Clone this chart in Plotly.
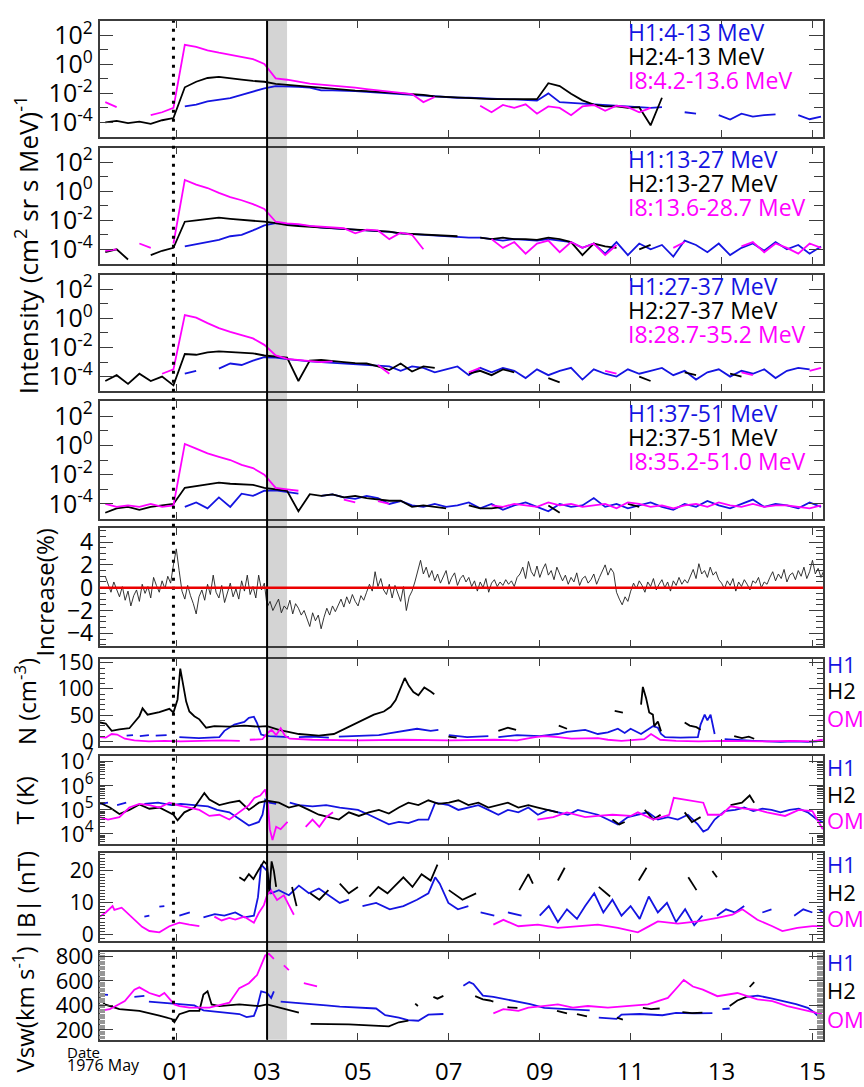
import plotly.graph_objects as go
import pandas as pd

W, H = 864, 1087
BASE = pd.Timestamp("1976-05-01 00:00")

# ---------------- sampling grids (days from 1976-05-01 00:00 UT) ----------------
T_INT = [-1.56 + 0.25 * k for k in range(64)]
T_INC = [-1.56 + 0.0625 * k for k in range(256)]

# ---------------- proton intensities, log10 values ----------------
P1_H1 = [None]*7 + [-2.9,-2.77,-2.55,-2.44,-2.32,-2.1,-1.88,-1.65,
 -1.5,-1.5,-1.55,-1.6,-1.8,-1.8,-1.8,-1.85,-1.9,-1.95,
 -2.0,-2.05,-2.1,-2.15,-2.2,-2.25,-2.3,-2.3,-2.35,-2.4,
 -2.4,-2.42,-2.45,-2.5,-2.0,-2.6,-2.65,-2.7,-2.8,-2.85,
 -2.9,-2.95,-3.0,-3.0,-2.95,None,-3.3,-3.4,None,-3.5,
 -3.8,-3.4,-3.6,-3.5,-3.45,None,-3.5,-3.78,-3.6]
P1_H2 = [-4.0,-3.9,-4.05,-3.95,-4.1,-3.85,-3.7,
 -1.58,-1.2,-0.94,-0.87,-0.98,-1.05,-1.14,-1.2,
 -1.35,-1.42,-1.48,-1.55,-1.6,-1.68,-1.72,-1.81,-1.85,-1.9,
 -1.95,-2.0,-2.05,-2.1,-2.2,-2.25,-2.25,-2.3,-2.39,-2.4,
 -2.4,-2.4,-2.45,-2.4,-1.3,-1.5,-2.03,-2.48,-2.77,-2.9,
 -2.9,-3.0,-2.95,-4.2,-2.3,None,None,None,None,None] + [None]*9
P1_I8 = [-2.6,-2.95,None,None,-3.5,-3.3,-3.0,
 1.35,1.2,0.97,0.8,0.65,0.52,0.36,0.03,
 -0.96,-1.06,-1.2,-1.33,-1.4,-1.45,-1.5,-1.6,-1.7,-1.8,
 -1.85,-1.95,-2.05,-2.6,-2.25,None,None,None,
 -2.85,-3.3,-2.8,-3.0,-2.75,-3.4,-2.9,-3.0,-3.5,-2.9,-2.8,-3.2,-2.85,-2.95,-3.3,-3.0] + [None]*15

P2_H1 = [None]*7 + [-3.8,-3.65,-3.45,-3.35,-3.1,-3.0,-2.7,-2.35,
 -2.2,-2.25,-2.3,-2.4,-2.5,-2.55,-2.6,-2.65,-2.7,-2.75,
 -2.8,-2.9,-2.95,-3.0,-3.1,-3.1,-3.15,-3.2,-3.2,-3.3,
 -3.4,-3.3,-3.35,-3.4,-3.3,-3.4,
 -3.5,-3.9,-3.6,-4.3,-3.5,-4.4,-3.6,-4.0,-3.7,-4.5,-3.4,-3.7,-4.2,-3.6,-4.4,-3.9,-3.6,-4.1,-3.5,-4.0,-3.7,-4.3,-3.8]
P2_H2 = [-4.2,-4.0,-4.7,None,-4.4,-4.1,-3.9,
 -2.1,-2.0,-1.9,-1.82,-1.9,-1.95,-2.0,-2.1,
 -2.2,-2.33,-2.4,-2.45,-2.5,-2.55,-2.55,-2.6,-2.65,-2.7,
 -2.78,-2.9,-2.95,-3.0,-3.0,-3.05,-3.1,None,-3.2,-3.3,
 -3.2,-3.3,-3.3,-3.35,-3.2,-3.3,-3.5,-4.4,-3.6,-3.8,
 -3.9,None,-4.0,-3.7] + [None]*15
P2_I8 = [-4.1,-4.0,None,-3.6,-3.9,None,-3.6,
 0.78,0.45,0.22,-0.11,-0.4,-0.62,-0.89,-1.22,
 -2.1,-2.22,-2.27,-2.38,-2.45,-2.5,-2.55,-2.9,-2.65,-2.7,
 -3.3,-2.85,-3.0,-4.0,None,None,None,None,None,
 -3.3,-3.9,-3.5,-4.3,-3.6,-3.4,-4.2,-3.5,-3.9,-3.6,-4.4,-3.7,
 None,None,None,None,-3.9,-3.5,None,None,None,None,
 -3.8,-3.5,-4.2,-3.6,-3.9,-4.3,-3.6,-3.9]

P3_H1 = [None]*7 + [-3.8,-3.6,None,-3.45,-3.1,-3.2,-2.9,-2.67,
 -2.7,-2.8,-2.9,-2.95,-3.0,-3.05,-3.1,-3.15,-3.2,-3.3,-3.3,
 -3.6,-3.3,-3.4,-3.7,-3.5,-3.3,-3.9,-3.4,-3.7,-3.4,-3.6,-4.1,-3.5,-3.9,-3.6,-3.4,-4.2,-3.5,-3.8,
 -4.0,-3.5,-3.8,-3.6,-3.4,-3.9,-3.6,-4.2,-3.7,-3.5,-4.0,-3.6,-3.8,-3.5,-4.1,-3.6,-3.4,-3.5]
P3_H2 = [-4.3,-3.9,-4.5,-3.8,-4.3,-4.0,-4.6,
 -2.45,-2.5,-2.33,-2.27,-2.33,-2.35,-2.4,-2.55,
 -2.6,-2.7,-4.3,-2.9,-2.85,-2.9,-3.0,-3.07,-3.1,-3.3,
 -3.55,-3.1,-3.65,-3.3,-3.4,None,None,-3.8,-3.6,-3.9,
 -3.5,-3.7,None,None,-4.1,-4.4,None,None,None,None,
 None,None,-4.0,-4.3,None,None,-3.7,-3.9,None,None,
 -3.8,-4.0] + [None]*7
P3_I8 = [None,None,None,None,None,-3.8,-3.5,
 0.22,0.04,-0.33,-0.67,-0.93,-1.16,-1.38,-1.82,
 -2.55,-2.78,-2.85,-2.9,-3.0,-2.95,None,None,None,-3.2,
 -3.8,None,None,None,None,None,None,-3.7,-3.4,None,
 None,None,None,None,None,None,None,None,None,-3.6,
 -3.8,None,None,None,None,None,None,None,None,None,
 None,-3.7,-3.9,None,None,None,None,-3.6,-3.4]

P4_H1 = [None]*7 + [-4.2,-3.9,-4.3,-3.55,-4.2,-3.3,-3.45,-3.1,
 -3.07,-3.2,-3.3,None,-3.45,-3.35,-3.55,-3.65,-3.45,-3.6,-4.0,-3.8,
 -4.1,-4.2,-4.0,-4.2,-4.1,-3.9,-4.3,-4.0,-4.4,-4.1,-3.9,-4.2,-4.5,-4.0,-4.2,-4.1,-3.6,-4.2,-4.0,
 -4.3,-4.1,-3.9,-4.2,-4.4,-4.0,-4.2,-3.8,-4.1,-4.3,-4.0,-3.7,-4.2,-4.0,-4.1,-4.3,-3.9,-4.2]
P4_H2 = [-4.6,-4.3,-4.2,-4.4,-4.2,-4.1,-4.0,
 -2.9,-2.78,-2.62,-2.55,-2.62,-2.65,-2.7,-2.9,
 -3.0,-3.1,-4.5,-3.33,-3.45,-3.35,-3.55,-3.45,-3.6,-3.67,
 -3.78,-3.78,-4.2,-4.1,-4.2,-4.3,None,-4.1,-4.3,-4.3,
 -4.2,None,None,None,-4.1,-4.6,None,None,None,None,
 None,-4.0,-4.2] + [None]*16
P4_I8 = [-4.0,-4.2,-4.1,-4.2,-4.0,-4.2,-4.1,
 0.1,-0.22,-0.55,-0.78,-1.0,-1.33,-1.55,-2.0,
 -2.9,-3.0,-3.1,None,None,None,-3.7,-3.9,None,-3.8,
 -4.0,None,None,None,None,None,None,None,None,
 -4.1,-4.2,-4.0,-4.1,-4.2,-3.9,-4.1,-4.0,-4.2,-4.1,-4.0,-4.3,-3.9,-4.0,-4.2,
 -4.1,-4.3,-4.1,-4.0,-4.2,-3.9,-4.1,-4.2,-4.0,-4.2,-4.1,-4.1,-4.2,-4.3,-4.1]

# ---------------- cosmic-ray increase (%) ----------------
INCREASE = [1.0,0.2,-0.4,0.5,-0.2,-0.8,0.1,-1.1,-0.3,-1.6,-0.7,-0.2,-1.2,0.3,-0.5,0.1,-0.9,0.9,0.2,-0.4,0.6,-0.1,1.0,0.4,
 2.0,3.4,1.5,
 -0.3,-1.0,0.2,-0.7,-1.4,-2.3,-0.8,-0.2,-1.1,0.3,-0.6,1.1,-0.4,-0.9,0.2,-1.3,-0.5,0.4,-0.8,-0.1,-1.0,0.6,-0.3,1.1,-0.6,0.1,-0.9,1.1,-0.2,0.4,
 -1.7,
 -1.2,-2.0,-1.5,-1.0,-2.2,-1.6,-1.9,-1.1,-2.3,-1.4,-1.8,-2.4,
 -2.0,-2.8,-3.4,-2.2,-2.9,-2.4,-3.6,-2.6,
 -1.8,-2.4,-1.6,-2.1,-1.5,
 -1.0,-1.7,-0.8,-1.4,-0.6,-1.2,-1.6,-0.7,-1.1,-0.4,
 0.3,-0.3,1.4,0.1,0.8,-0.2,
 -0.6,0.3,-0.9,0.2,-0.5,-1.2,0.1,-2.0,-0.8,-0.3,
 0.5,1.4,2.4,1.2,1.8,0.9,1.5,
 0.6,1.2,0.4,1.0,1.5,0.3,0.9,1.3,0.2,0.8,1.1,0.5,0.9,
 0.1,0.6,-0.3,0.5,0.0,0.8,-0.4,0.4,0.7,0.1,0.5,
 0.2,0.7,0.3,0.6,0.1,0.9,
 1.2,1.8,0.8,2.3,1.4,1.0,1.9,0.9,1.6,2.1,1.1,1.5,0.7,1.8,1.2,
 0.6,1.1,0.3,0.9,0.5,1.3,0.2,0.8,1.0,0.4,0.7,1.2,0.3,0.9,
 1.4,2.0,1.1,1.7,1.3,
 -0.4,-1.0,-1.5,-0.8,-1.2,-0.3,
 0.4,-0.1,0.6,0.2,-0.4,0.5,0.1,0.8,-0.2,0.3,0.7,0.0,0.5,-0.3,0.6,0.2,0.9,0.3,0.7,0.4,
 1.0,1.6,0.8,2.1,1.2,1.5,0.9,1.8,1.1,1.4,0.7,
 0.4,-0.1,0.6,0.2,0.8,-0.3,0.5,0.1,0.7,0.3,-0.2,0.6,0.4,0.9,0.0,0.5,0.3,
 0.9,1.4,0.6,1.2,0.8,1.6,0.5,1.1,1.3,0.7,1.5,1.0,1.8,0.8,1.4,2.4,1.2,1.7,0.9,1.5,1.9,1.3]

# ---------------- plasma: (day, value) pairs; None = data gap ----------------
N_H1 = [(-1.09,11),(-0.95,12),(-0.9,None),(-0.8,10),(-0.6,12),(-0.52,None),(-0.45,11),(-0.21,12),(-0.1,None),
 (0.07,8),(0.5,6),(0.95,8),(1.06,20),(1.28,32),(1.5,37),(1.6,45),(1.71,47),(1.78,35),(1.87,13),(1.96,11),
 (2.05,10),(2.48,8),(2.6,None),(2.7,8),(3.0,9),(3.36,7),(3.47,None),(3.58,9),(4.0,10),(4.46,12),(4.68,15),
 (5.0,20),(5.3,24),(5.6,20),(5.77,22),(5.88,None),(6.0,12),(6.4,8),(6.87,10),(6.98,None),(7.09,8),(7.5,12),
 (8.0,10),(8.4,14),(8.6,18),(9.0,22),(9.28,14),(9.5,17),(9.72,24),(9.87,16),(10.0,24),(10.23,14),(10.49,29),
 (10.6,26),(10.67,14),(10.76,8),(11.1,7),(11.48,8),(11.54,32),(11.63,51),(11.69,40),(11.76,51),(11.85,14),
 (11.95,None),(12.07,4),(12.4,2),(12.72,1),(13.0,0),(13.3,-1),(13.6,0),(13.9,-1),(14.1,0),(14.21,3)]
N_H2 = [(-1.68,36),(-1.55,34),(-1.42,20),(-1.25,23),(-1.03,25),(-0.81,48),(-0.74,63),(-0.63,51),(-0.37,56),
 (-0.15,62),(-0.06,55),(0.03,80),(0.09,139),(0.16,102),(0.22,76),(0.29,57),(0.4,48),(0.51,42),(0.66,26),
 (0.84,29),(1.17,28),(1.5,30),(1.82,28),(2.0,29),(2.26,22),(2.7,14),(3.14,11),(3.47,14),(3.69,23),(3.91,33),
 (4.13,42),(4.35,51),(4.57,57),(4.72,66),(4.83,79),(4.94,102),(5.03,121),(5.12,106),(5.22,94),(5.33,88),
 (5.46,103),(5.6,95),(5.68,90),(5.8,None),(5.99,9),(6.17,7),(6.3,None),(7.09,20),(7.3,26),(7.48,22),(7.6,None),
 (8.42,30),(8.6,24),(8.7,None),(9.65,58),(9.83,55),(9.9,None),(10.23,70),(10.27,104),(10.34,83),(10.41,55),
 (10.49,51),(10.52,29),(10.6,38),(10.67,19),(10.8,None),(11.19,36),(11.3,30),(11.45,27),(11.54,22),(11.7,None),
 (12.28,10),(12.45,6),(12.6,9),(12.72,5)]
N_OM = [(-1.68,8),(-1.55,7),(-1.42,14),(-1.3,13),(-1.13,5),(-0.92,2),(-0.6,0),(-0.26,1),(0.1,0),(0.5,1),(1.0,2),
 (1.4,1),(1.5,None),(1.62,3),(1.9,4),(2.0,15),(2.1,22),(2.2,12),(2.3,25),(2.4,10),(2.5,5),(3.0,3),(4.0,2),
 (5.0,3),(6.0,2),(7.0,3),(7.5,2),(7.9,8),(8.1,10),(8.4,8),(8.7,5),(9.28,6),(9.5,3),(9.8,1),(10.0,2),(10.3,4),
 (10.45,14),(10.55,8),(10.65,3),(11.0,1),(11.5,0),(12.0,1),(12.5,0),(13.0,0),(13.5,1),(14.0,0),(14.23,3)]

# temperature as log10(T/K)
T_H1 = [(-1.68,5.25),(-1.5,5.3),(-1.4,None),(-1.3,5.2),(-1.1,5.3),(-0.95,None),(-0.7,5.25),(-0.4,5.3),(-0.1,5.2),
 (0.1,5.25),(0.4,5.2),(0.7,5.15),(0.9,5.0),(1.17,4.9),(1.39,4.62),(1.6,4.35),(1.82,4.5),(1.9,4.8),(1.96,5.43),
 (2.05,5.3),(2.2,5.25),(2.35,None),(2.5,5.3),(2.7,5.2),(3.0,5.15),(3.3,5.2),(3.6,5.1),(4.0,5.0),(4.24,4.8),
 (4.46,4.6),(4.68,4.4),(4.9,4.5),(5.11,4.45),(5.33,4.6),(5.55,4.6),(5.7,5.3),(6.0,5.2),(6.21,5.0),(6.43,5.1),
 (6.65,5.2),(6.87,5.0),(7.09,4.8),(7.3,5.0),(7.53,4.9),(7.75,5.1),(7.96,4.8),(8.18,5.0),(8.4,4.9),(8.62,4.8),
 (8.84,5.0),(9.06,4.9),(9.28,4.8),(9.5,4.6),(9.72,4.4),(9.94,4.7),(10.16,4.8),(10.38,4.9),(10.6,4.6),
 (10.82,4.7),(11.04,4.6),(11.26,4.8),(11.48,4.4),(11.6,4.1),(11.7,4.2),(11.85,4.6),(12.07,4.95),(12.3,5.0),
 (12.5,5.1),(12.7,4.95),(12.9,5.05),(13.1,5.0),(13.3,4.9),(13.5,5.0),(13.7,5.05),(13.9,4.9),(14.1,4.6),(14.23,4.5)]
T_H2 = [(-1.68,5.3),(-1.46,5.1),(-1.25,4.83),(-1.03,5.0),(-0.81,5.23),(-0.59,5.05),(-0.37,5.1),(-0.15,4.9),
 (-0.06,4.8),(0.03,4.57),(0.18,4.9),(0.4,5.1),(0.62,5.7),(0.73,5.43),(0.95,5.2),(1.17,5.3),(1.39,5.38),(1.6,5.0),
 (1.82,5.3),(2.0,5.38),(2.26,5.3),(2.48,5.1),(2.7,5.2),(2.92,5.0),(3.14,4.8),(3.36,4.7),(3.58,4.6),(3.8,4.9),
 (4.02,4.75),(4.24,4.9),(4.46,5.0),(4.68,4.85),(4.9,5.1),(5.11,5.3),(5.33,5.2),(5.55,5.4),(5.77,5.25),(6.0,5.3),
 (6.21,5.4),(6.43,5.2),(6.65,5.3),(6.87,5.1),(7.09,5.2),(7.3,5.3),(7.53,5.1),(7.75,5.2),(7.96,5.1),(8.18,5.0),
 (8.4,4.9),(8.5,None),(9.6,4.6),(9.75,4.4),(9.87,4.5),(9.95,None),(10.31,5.0),(10.5,4.6),(10.66,4.8),(10.75,None),
 (11.19,4.9),(11.35,4.5),(11.54,4.7),(11.6,None),(12.2,5.2),(12.45,5.3),(12.62,5.6),(12.72,5.3)]
T_OM = [(-1.68,4.7),(-1.5,4.6),(-1.25,4.7),(-1.03,5.1),(-0.81,5.25),(-0.59,5.2),(-0.37,5.1),(-0.15,5.3),(0.03,5.2),
 (0.29,5.1),(0.51,5.0),(0.73,4.75),(0.95,4.8),(1.17,4.6),(1.39,4.9),(1.6,5.2),(1.72,5.5),(1.85,5.6),(1.96,5.85),
 (2.02,5.2),(2.06,4.2),(2.12,3.75),(2.2,4.3),(2.3,4.2),(2.45,4.5),(2.55,None),(2.85,4.3),(3.0,4.6),(3.15,4.3),
 (3.3,4.7),(3.45,4.9),(3.55,None),(7.95,4.6),(8.3,4.7),(8.6,4.9),(9.0,4.7),(9.28,4.75),(9.6,4.8),(10.0,4.75),
 (10.16,4.9),(10.5,4.6),(10.85,4.8),(10.95,5.5),(11.1,5.45),(11.3,5.4),(11.6,5.3),(11.7,4.8),(12.0,4.8),
 (12.2,5.15),(12.5,5.05),(12.8,5.0),(13.0,4.9),(13.4,4.75),(13.7,5.0),(14.0,4.95),(14.1,4.6),(14.23,4.2)]

B_H1 = [(-0.7,5.7),(-0.59,6),(-0.5,None),(-0.37,8.8),(-0.26,9),(-0.15,None),(0.07,6),(0.3,7),(0.5,None),(0.6,5.5),
 (0.85,6.5),(1.06,6),(1.3,7),(1.5,5.5),(1.71,6),(1.8,11.8),(1.87,22),(2.0,20),(2.09,13),(2.26,14),(2.48,12.4),
 (2.7,15.4),(2.92,13),(3.14,14.5),(3.36,12.4),(3.6,10),(3.8,11),(4.0,None),(4.1,9),(4.4,10),(4.7,8),(5.0,9),
 (5.3,11),(5.55,13),(5.7,18),(5.8,16),(5.99,10),(6.2,8),(6.43,9),(6.6,None),(6.7,7),(7.0,6),(7.2,None),(7.3,7),
 (7.6,6),(7.8,None),(8.0,6),(8.2,9),(8.4,4),(8.6,8),(8.82,5),(9.0,9),(9.2,13),(9.4,7),(9.6,11),(9.8,6),(10.0,9),
 (10.2,5),(10.4,12),(10.6,7),(10.8,10),(11.0,4),(11.2,8),(11.4,3),(11.58,6),(11.7,None),(11.9,6),(12.1,8),
 (12.3,7),(12.5,9),(12.6,None),(12.9,7),(13.1,8),(13.2,None),(13.6,6),(13.8,8),(14.0,7),(14.1,None),(14.15,8),(14.23,7)]
B_H2 = [(1.39,18),(1.5,17),(1.6,19),(1.7,17.5),(1.8,20),(1.93,23),(2.0,22),(2.05,13),(2.1,23),(2.15,20),(2.2,15),
 (2.3,None),(2.55,15),(2.65,9),(2.75,None),(2.95,13),(3.15,11),(3.35,14),(3.45,None),(3.6,16),(3.8,13),(4.0,15),
 (4.1,None),(4.25,12),(4.45,15),(4.65,13),(4.85,16),(5.0,18),(5.2,15),(5.4,19),(5.6,17),(5.75,22),(5.85,None),
 (6.0,14),(6.3,11),(6.6,13),(6.7,None),(7.55,14),(7.75,19),(7.85,16),(7.95,None),(8.4,17),(8.55,21),(8.65,None),
 (9.3,15),(9.55,12),(9.65,None),(10.18,17),(10.35,21),(10.45,None),(11.27,18),(11.45,14),(11.55,None),(11.8,20),(11.9,18)]
B_OM = [(-1.68,5.7),(-1.55,7),(-1.4,9),(-1.36,7.8),(-1.2,8.5),(-1.05,6.5),(-0.92,4.7),(-0.75,2.5),(-0.59,1.2),
 (-0.37,0.8),(-0.15,2.7),(0.07,3.8),(0.29,3.2),(0.51,2.7),(0.55,None),(0.84,5.7),(1.0,4.5),(1.17,5.3),(1.3,4.8),
 (1.5,5.7),(1.71,3.8),(1.82,6.9),(1.93,9.3),(2.0,12.4),(2.09,13.9),(2.22,10.9),(2.37,12.4),(2.48,9.3),(2.59,6.3),
 (2.7,None),(6.98,3.2),(7.2,4.7),(7.53,2.7),(7.96,3.2),(8.4,2.2),(8.84,2.7),(9.28,3.2),(9.72,2.2),(10.16,0.8),
 (10.38,2.5),(10.6,4.2),(11.04,3.5),(11.48,4.2),(11.91,5.3),(12.24,6.3),(12.46,8.0),(12.79,4.7),(13.12,2.7),
 (13.34,1.2),(13.67,2.2),(14.0,2.7),(14.23,2.7)]

V_H1 = [(-1.68,490),(-1.5,485),(-1.4,None),(-0.92,470),(-0.7,478),(-0.65,None),(-0.6,430),(-0.3,420),(-0.04,410),
 (0.2,405),(0.4,400),(0.6,360),(0.9,350),(1.2,335),(1.39,330),(1.55,305),(1.71,315),(1.78,382),(1.87,515),
 (2.0,501),(2.09,461),(2.15,515),(2.2,None),(2.3,430),(2.5,425),(2.7,420),(3.0,410),(3.3,400),(3.6,390),
 (4.0,385),(4.4,375),(4.6,320),(4.9,300),(5.1,280),(5.33,275),(5.55,325),(5.88,330),(5.95,None),(6.04,461),
 (6.15,None),(6.32,560),(6.45,590),(6.54,575),(6.75,480),(6.98,470),(7.2,455),(7.5,430),(7.79,410),(8.1,380),
 (8.5,370),(8.8,365),(9.1,360),(9.2,None),(9.3,300),(9.69,290),(9.8,325),(10.2,330),(10.7,320),(11.0,340),
 (11.4,335),(11.8,338),(11.9,None),(12.02,369),(12.18,375),(12.3,None),(12.55,470),(12.8,480),(13.12,455),
 (13.4,430),(13.64,410),(13.9,380),(14.05,340),(14.19,290)]
V_H2 = [(-1.68,462),(-1.57,408),(-1.25,369),(-0.81,356),(-0.37,316),(-0.1,290),(-0.04,263),(0.07,329),(0.29,356),
 (0.51,356),(0.6,488),(0.69,515),(0.78,408),(0.95,395),(1.39,408),(1.82,395),(2.0,408),(2.26,382),(2.7,342),
 (2.81,None),(2.96,250),(3.36,250),(3.8,245),(4.24,237),(4.68,229),(4.9,263),(5.11,276),(5.2,None),(5.26,415),
 (5.32,395),(5.4,None),(5.66,470),(5.75,455),(5.88,478),(5.95,None),(6.58,475),(6.75,450),(6.9,440),(6.98,430),
 (7.05,None),(7.29,385),(7.51,380),(7.6,None),(8.38,355),(8.6,335),(8.7,None),(8.82,330),(9.04,310),(9.1,None),
 (9.7,300),(9.83,285),(9.9,None),(10.27,380),(10.45,370),(10.64,375),(10.7,None),(11.14,345),(11.35,338),
 (11.58,342),(11.65,None),(12.18,395),(12.35,440),(12.55,470),(12.6,None),(12.62,550),(12.72,590)]
V_OM = [(-1.68,356),(-1.46,369),(-1.13,435),(-0.92,528),(-0.81,547),(-0.59,501),(-0.37,475),(-0.26,501),(-0.04,408),
 (0.07,395),(0.29,382),(0.73,382),(1.17,422),(1.39,541),(1.6,581),(1.78,647),(1.87,726),(1.96,806),(2.04,819),
 (2.15,779),(2.2,None),(2.37,726),(2.48,687),(2.55,None),(2.81,581),(3.1,555),(3.2,None),(6.98,335),(7.2,369),
 (7.53,356),(7.75,382),(8.07,395),(8.4,408),(8.73,382),(9.06,395),(9.5,382),(9.94,395),(10.38,408),(10.6,435),
 (10.82,461),(11.04,552),(11.17,607),(11.37,554),(11.59,528),(11.91,475),(12.35,501),(12.79,449),(13.12,435),
 (13.45,395),(13.88,356),(14.21,329)]

# ---------------- labels ----------------
INT_LABELS = [("H1:4-13 MeV", "H2:4-13 MeV", "I8:4.2-13.6 MeV"),
              ("H1:13-27 MeV", "H2:13-27 MeV", "I8:13.6-28.7 MeV"),
              ("H1:27-37 MeV", "H2:27-37 MeV", "I8:28.7-35.2 MeV"),
              ("H1:37-51 MeV", "H2:37-51 MeV", "I8:35.2-51.0 MeV")]
PLASMA_LABELS = ("H1", "H2", "OM")
X_START, X_END = -1.684, 14.237          # days from May 01
EVENT_DOTTED = -0.06
EVENT_SOLID = 2.0
SHADE = (2.0, 2.44)

# ---------------- styling ----------------
BLUE, BLACK, MAG = "rgb(20,20,225)", "rgb(0,0,0)", "rgb(255,0,255)"
AX = "rgb(60,60,60)"
FONT = "Open Sans, Noto Sans, sans-serif"
PANEL_PX = [(9,128),(139,258),(269,388.5),(399,519),(529,650),(663,751.5),(762,852),(862,952),(963,1053)]
XL, XR = 100, 826


def dt(days):
    return [BASE + pd.Timedelta(days=float(d)) for d in days]


def split(pairs):
    return [p[0] for p in pairs], [p[1] for p in pairs]


def exp10(vals):
    return [None if v is None else 10 ** v for v in vals]


fig = go.Figure()

def add(ax, t, y, color, width=1.8):
    sfx = "" if ax == 1 else str(ax)
    fig.add_trace(go.Scatter(x=dt(t), y=y, mode="lines", xaxis="x" + sfx, yaxis="y" + sfx,
                             line=dict(color=color, width=width), connectgaps=False,
                             showlegend=False, hoverinfo="skip"))

for i, (h1, h2, i8) in enumerate([(P1_H1, P1_H2, P1_I8), (P2_H1, P2_H2, P2_I8),
                                   (P3_H1, P3_H2, P3_I8), (P4_H1, P4_H2, P4_I8)]):
    add(i + 1, T_INT, exp10(h1), BLUE)
    add(i + 1, T_INT, exp10(h2), BLACK)
    add(i + 1, T_INT, exp10(i8), MAG)

add(5, T_INC, INCREASE, "rgb(30,30,30)", 0.9)

for ax, series, logy in [(6, (N_H1, N_H2, N_OM), False), (7, (T_H1, T_H2, T_OM), True),
                         (8, (B_H1, B_H2, B_OM), False), (9, (V_H1, V_H2, V_OM), False)]:
    for pairs, col in zip(series, (BLUE, BLACK, MAG)):
        t, v = split(pairs)
        add(ax, t, exp10(v) if logy else v, col)

# ---------------- axes ----------------
layout = dict(width=W, height=H, margin=dict(l=0, r=0, t=0, b=0), autosize=False,
              paper_bgcolor="white", plot_bgcolor="rgba(0,0,0,0)", showlegend=False,
              font=dict(family=FONT, color="black"))

xr = [str(BASE + pd.Timedelta(days=X_START)), str(BASE + pd.Timedelta(days=X_END))]
base_tick = dict(ticks="inside", mirror="ticks", showline=True, linecolor=AX, linewidth=1.6,
                 tickcolor=AX, tickwidth=1.4, showgrid=False, zeroline=False)

for k, (top, bot) in enumerate(PANEL_PX):
    n = k + 1
    sfx = "" if n == 1 else str(n)
    xa = dict(base_tick, domain=[XL / W, XR / W], anchor="y" + sfx, range=xr, type="date",
              tickmode="linear", tick0="1976-05-01", dtick=2 * 86400000, ticklen=7,
              showticklabels=(n == 9), tickformat="%d", tickfont=dict(size=24, family=FONT),
              ticklabelstandoff=10)
    ya = dict(base_tick, domain=[1 - bot / H, 1 - top / H], anchor="x" + sfx, ticklen=14,
              tickfont=dict(size=21, family=FONT))
    if n <= 4:
        ya.update(type="log", range=[-5, 3], tickvals=[1e-4, 1e-2, 1, 1e2],
                  ticktext=["10<sup>-4</sup>", "10<sup>-2</sup>", "10<sup>0</sup>", "10<sup>2</sup>"],
                  tickfont=dict(size=25, family=FONT),
                  minor=dict(tickvals=[1e-3, 1e-1, 1e1], ticks="inside", ticklen=9, tickcolor=AX, tickwidth=1.4))
    elif n == 5:
        ya.update(range=[-5.15, 5.2], tickvals=[-4, -2, 0, 2, 4], tickfont=dict(size=23, family=FONT),
                  minor=dict(dtick=0.5, tick0=0, ticks="inside", ticklen=7, tickcolor=AX, tickwidth=1.2))
    elif n == 6:
        ya.update(range=[-8, 157], tickvals=[0, 50, 100, 150],
                  minor=dict(dtick=10, tick0=0, ticks="inside", ticklen=6, tickcolor=AX, tickwidth=1.2))
    elif n == 7:
        ya.update(type="log", range=[3.6, 7.25], tickvals=[1e4, 1e5, 1e6, 1e7],
                  ticktext=["10<sup>4</sup>", "10<sup>5</sup>", "10<sup>6</sup>", "10<sup>7</sup>"],
                  tickfont=dict(size=22, family=FONT),
                  minor=dict(tickvals=[m * 10 ** e for e in range(3, 7) for m in range(2, 10)],
                             ticks="inside", ticklen=6, tickcolor=AX, tickwidth=1.2))
    elif n == 8:
        ya.update(range=[-2, 25.5], tickvals=[0, 10, 20],
                  minor=dict(dtick=1, tick0=0, ticks="inside", ticklen=6, tickcolor=AX, tickwidth=1.2))
    else:
        ya.update(range=[120, 835], tickvals=[200, 400, 600, 800], tickfont=dict(size=22, family=FONT),
                  minor=dict(dtick=10, tick0=0, ticks="inside", ticklen=6, tickcolor="rgb(150,150,150)", tickwidth=1))
    layout["xaxis" + sfx] = xa
    layout["yaxis" + sfx] = ya

# extra long unlabelled ticks (5 nT and 100 km/s steps) on overlay axes
layout["yaxis10"] = dict(base_tick, overlaying="y8", anchor="x8", side="left", range=[-2, 25.5],
                         tickvals=[5, 15, 25], ticklen=14, showticklabels=False)
layout["yaxis11"] = dict(base_tick, overlaying="y9", anchor="x9", side="left", range=[120, 835],
                         tickvals=[300, 500, 700], ticklen=14, showticklabels=False)

fig.update_layout(**layout)

# ---------------- shapes ----------------
ybot, ytop = 1 - PANEL_PX[-1][1] / H, 1 - PANEL_PX[0][0] / H
fig.add_shape(type="rect", xref="x", yref="paper", x0=BASE + pd.Timedelta(days=SHADE[0]),
              x1=BASE + pd.Timedelta(days=SHADE[1]), y0=ybot, y1=ytop,
              fillcolor="rgb(212,212,212)", line=dict(width=0), layer="below")
fig.add_shape(type="line", xref="x", yref="paper", x0=BASE + pd.Timedelta(days=EVENT_SOLID),
              x1=BASE + pd.Timedelta(days=EVENT_SOLID), y0=ybot, y1=ytop, line=dict(color="black", width=2))
fig.add_shape(type="line", xref="x", yref="paper", x0=BASE + pd.Timedelta(days=EVENT_DOTTED),
              x1=BASE + pd.Timedelta(days=EVENT_DOTTED), y0=ybot, y1=ytop,
              line=dict(color="black", width=3, dash="3px,6px"))
fig.add_shape(type="line", xref="x5 domain", yref="y5", x0=0, x1=1, y0=0, y1=0,
              line=dict(color="rgb(235,0,0)", width=2.5))

# ---------------- annotations ----------------
def ann(text, x, y, size, color="black", xanchor="left", angle=0):
    fig.add_annotation(text=text, x=x / W, y=1 - y / H, xref="paper", yref="paper", showarrow=False,
                       xanchor=xanchor, yanchor="middle", textangle=angle,
                       font=dict(size=size, color=color, family=FONT))

for (top, bot), labels in zip(PANEL_PX[:4], INT_LABELS):
    for j, (txt, col) in enumerate(zip(labels, (BLUE, BLACK, MAG))):
        ann(txt, 628, top + 12 + 24.5 * j, 23, col)

for top, offs in [(663, (5, 32, 60)), (762, (11, 39, 66)), (862, (11, 40, 66)), (963, (10, 39, 69))]:
    for txt, col, o in zip(PLASMA_LABELS, (BLUE, BLACK, MAG), offs):
        ann(txt, 828, top + o, 22, col)

ann("Intensity (cm<sup>2</sup> sr s MeV)<sup>-1</sup>", 27, 238, 26, xanchor="center", angle=-90)
ann("Increase(%)", 45, 595, 24, xanchor="center", angle=-90)
ann("N (cm<sup>-3</sup>)", 25, 706, 24, xanchor="center", angle=-90)
ann("T (K)", 25, 808, 24, xanchor="center", angle=-90)
ann("|B| (nT)", 25, 906, 24, xanchor="center", angle=-90)
ann("Vsw(km s<sup>-1</sup>)", 24, 1022, 24, xanchor="center", angle=-90)
ann("Date", 65, 1065, 15)
ann("1976 May", 65, 1079, 16)

fig.write_html("out.html", config={"displayModeBar": False},
               post_script="document.body.style.margin='0px';document.body.style.overflow='hidden';")
